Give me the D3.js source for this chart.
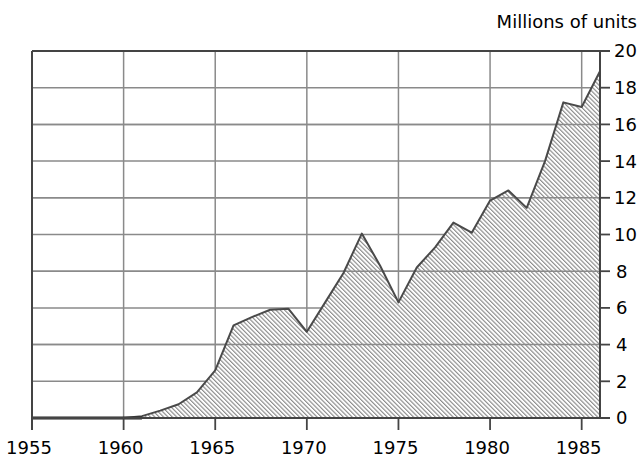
<!DOCTYPE html>
<html><head><meta charset="utf-8">
<script src="https://cdn.jsdelivr.net/npm/d3@7"></script>
<style>body{margin:0;background:#fff}svg{display:block}</style>
</head><body>
<script>
const years = [1955,1956,1957,1958,1959,1960,1961,1962,1963,1964,1965,1966,1967,1968,1969,1970,1971,1972,1973,1974,1975,1976,1977,1978,1979,1980,1981,1982,1983,1984,1985,1986];
const units = [0,0,0,0,0,0,0.1,0.4,0.75,1.4,2.6,5.05,5.5,5.9,5.95,4.7,6.3,7.9,10.05,8.3,6.3,8.2,9.3,10.65,10.1,11.85,12.4,11.45,14.0,17.2,16.95,18.9];
const xTicks = [1955,1960,1965,1970,1975,1980,1985];
const yTicks = [0,2,4,6,8,10,12,14,16,18,20];
const overTicks = [4,8,12,16];
const unitLabel = "Millions of units";

const W=641,H=458;
const svg=d3.select("body").append("svg").attr("width",W).attr("height",H);
const x=d3.scaleLinear().domain([1955,1986]).range([32,600]);
const y=d3.scaleLinear().domain([0,20]).range([418,51]);
const font="DejaVu Sans";
const grid="#8a8a8a";

const defs=svg.append("defs");
const pat=defs.append("pattern").attr("id","hatch").attr("patternUnits","userSpaceOnUse")
  .attr("width",3.1).attr("height",10).attr("patternTransform","rotate(-45)");
pat.append("rect").attr("width",3.1).attr("height",10).attr("fill","#fff");
pat.append("line").attr("x1",0.6).attr("x2",0.6).attr("y1",0).attr("y2",10).attr("stroke","#7a7a7a").attr("stroke-width",1);

// grid
svg.append("g").selectAll("line").data(xTicks.slice(1)).join("line")
  .attr("x1",d=>x(d)).attr("x2",d=>x(d)).attr("y1",y(20)).attr("y2",y(0))
  .attr("stroke",grid).attr("stroke-width",1.5);
svg.append("g").selectAll("line").data(yTicks.slice(1,-1)).join("line")
  .attr("x1",x(1955)).attr("x2",x(1986)).attr("y1",d=>y(d)).attr("y2",d=>y(d))
  .attr("stroke",grid).attr("stroke-width",1.5);

const pts=years.map((yr,i)=>[yr,units[i]]);
const area=d3.area().x(d=>x(d[0])).y0(y(0)).y1(d=>y(d[1]));
svg.append("path").datum(pts).attr("d",area).attr("fill","url(#hatch)");

// gridlines over hatch
svg.append("g").selectAll("line").data(overTicks).join("line")
  .attr("x1",x(1955)).attr("x2",x(1986)).attr("y1",d=>y(d)).attr("y2",d=>y(d))
  .attr("stroke",grid).attr("stroke-width",1.5);

const line=d3.line().x(d=>x(d[0])).y(d=>y(d[1]));
svg.append("path").datum(pts).attr("d",line).attr("fill","none").attr("stroke","#4a4a4a").attr("stroke-width",2).attr("stroke-linejoin","round");
// thick baseline for zero segment
svg.append("line").attr("x1",x(1955)).attr("x2",x(1961)).attr("y1",y(0)).attr("y2",y(0)).attr("stroke","#222").attr("stroke-width",3);

// frame
const fr="#444";
svg.append("line").attr("x1",x(1955)).attr("x2",610).attr("y1",y(20)).attr("y2",y(20)).attr("stroke",fr).attr("stroke-width",2);
svg.append("line").attr("x1",x(1955)).attr("x2",610).attr("y1",y(0)).attr("y2",y(0)).attr("stroke",fr).attr("stroke-width",1.8);
svg.append("line").attr("x1",x(1955)).attr("x2",x(1955)).attr("y1",y(20)).attr("y2",430).attr("stroke",fr).attr("stroke-width",2);
svg.append("line").attr("x1",x(1986)).attr("x2",x(1986)).attr("y1",y(20)).attr("y2",y(0)).attr("stroke",fr).attr("stroke-width",2);

// right axis ticks & labels
const ra=svg.append("g");
ra.selectAll("line").data(yTicks).join("line")
  .attr("x1",x(1986)).attr("x2",610).attr("y1",d=>y(d)).attr("y2",d=>y(d)).attr("stroke",fr).attr("stroke-width",1.8);
ra.selectAll("text").data(yTicks).join("text")
  .attr("x",d=>d<10?616:614).attr("y",d=>y(d)).attr("dy","0.36em")
  .attr("font-family",font).attr("font-size",18).attr("fill","#000").text(d=>d);

// bottom ticks & labels
const ba=svg.append("g");
ba.selectAll("line").data(xTicks).join("line")
  .attr("x1",d=>x(d)).attr("x2",d=>x(d)).attr("y1",y(0)).attr("y2",430).attr("stroke",fr).attr("stroke-width",1.8);
ba.selectAll("text").data(xTicks).join("text")
  .attr("x",d=>x(d)-3).attr("y",454).attr("text-anchor","middle")
  .attr("font-family",font).attr("font-size",18).attr("fill","#000").text(d=>d);

svg.append("text").attr("x",637).attr("y",28).attr("text-anchor","end")
  .attr("font-family",font).attr("font-size",18).attr("fill","#000").text(unitLabel);
</script>
</body></html>
